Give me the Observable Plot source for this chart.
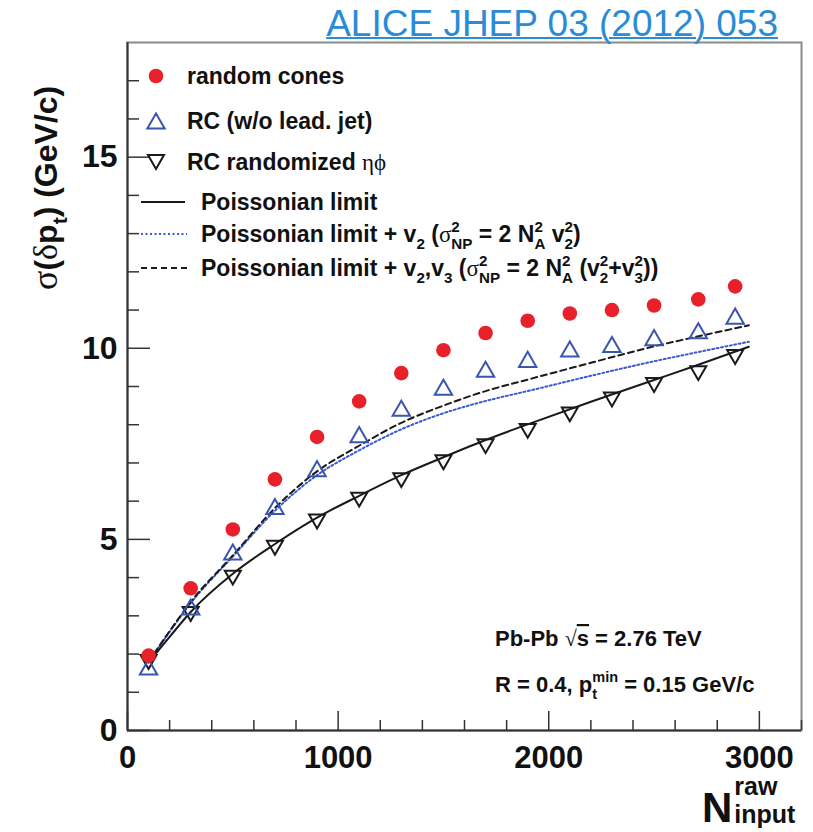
<!DOCTYPE html>
<html>
<head>
<meta charset="utf-8">
<script src="https://cdn.jsdelivr.net/npm/d3@7"></script>
<script src="https://cdn.jsdelivr.net/npm/@observablehq/plot@0.6"></script>
<style>
  html, body { margin: 0; padding: 0; background: #fff; }
  #wrap { position: relative; width: 813px; height: 832px; overflow: hidden; background: #fff; }
  #ref { position: absolute; right: 35px; top: 5px; font: 37px/37px "Liberation Sans", Arial, sans-serif;
         color: #2a8bd6; text-decoration: underline; text-decoration-thickness: 2px; white-space: nowrap; }
  svg text { white-space: pre; }
</style>
</head>
<body>
<div id="wrap"><div id="ref">ALICE JHEP 03 (2012) 053</div></div>
<script>
// ---- data ----
const nInput = [100, 300, 500, 700, 900, 1100, 1300, 1500, 1700, 1900, 2100, 2300, 2500, 2710, 2885];
const randomCones = [1.96, 3.72, 5.26, 6.57, 7.68, 8.61, 9.35, 9.95, 10.40, 10.72, 10.91, 11.00, 11.12, 11.28, 11.62];
const rcNoLeadJet = [1.66, 3.23, 4.67, 5.86, 6.85, 7.74, 8.43, 8.98, 9.45, 9.71, 9.98, 10.10, 10.28, 10.46, 10.84];
const rcRandomized = [1.79, 3.05, 4.00, 4.78, 5.47, 6.04, 6.55, 7.02, 7.44, 7.84, 8.27, 8.66, 9.04, 9.35, 9.77];

const curveN = [100, 200, 300, 500, 700, 900, 1100, 1300, 1500, 1700, 1900, 2200, 2500, 2700, 2950];
const poissonLimit = [1.78, 2.45, 3.10, 4.10, 4.88, 5.57, 6.14, 6.68, 7.15, 7.60, 8.01, 8.60, 9.17, 9.55, 10.04];
const poissonV2 = [1.78, 2.58, 3.33, 4.55, 5.75, 6.68, 7.33, 7.88, 8.30, 8.62, 8.88, 9.28, 9.66, 9.89, 10.17];
const poissonV2V3 = [1.80, 2.60, 3.36, 4.58, 5.82, 6.78, 7.45, 8.05, 8.50, 8.88, 9.18, 9.62, 10.05, 10.30, 10.60];

const xMajor = [0, 1000, 2000, 3000];
const xMinor = [200, 400, 600, 800, 1200, 1400, 1600, 1800, 2200, 2400, 2600, 2800, 3200];
const yMajor = [0, 5, 10, 15];
const yMinor = [1, 2, 3, 4, 6, 7, 8, 9, 11, 12, 13, 14, 16, 17];

// ---- layout / styles ----
const W = 813, H = 832, ML = 127, MR = 12, MT = 42, MB = 102;
const FW = W - ML - MR, FH = H - MT - MB;
const RED = "#e8202a", BLUE = "#3a55ad", DOTBLUE = "#3b5bd0", BLACK = "#1a1a1a";
const SANS = "'Liberation Sans', Arial, Helvetica, sans-serif";
const SERIF = "'Liberation Serif', 'DejaVu Serif', 'Times New Roman', serif";

const triUp = {draw(c, size) { const s = Math.sqrt(size / Math.PI) * 1.18;
  c.moveTo(0, -s); c.lineTo(s * 1.15, s); c.lineTo(-s * 1.15, s); c.closePath(); }};
const triDown = {draw(c, size) { const s = Math.sqrt(size / Math.PI) * 1.18;
  c.moveTo(0, s); c.lineTo(s * 1.15, -s); c.lineTo(-s * 1.15, -s); c.closePath(); }};

const pts = arr => nInput.map((x, i) => ({x, y: arr[i]}));
const crv = arr => curveN.map((x, i) => ({x, y: arr[i]}));

const chart = Plot.plot({
  width: W, height: H,
  marginLeft: ML, marginRight: MR, marginTop: MT, marginBottom: MB,
  style: {fontFamily: SANS, background: "white", overflow: "visible"},
  x: {domain: [0, 3200], label: null},
  y: {domain: [0, 18], label: null},
  marks: [
    Plot.frame({stroke: "#8a8a8a", strokeWidth: 2}),
    Plot.ruleX([0], {stroke: "#333", strokeWidth: 2}),
    Plot.ruleY([0], {stroke: "#333", strokeWidth: 2}),
    Plot.tickX(xMajor, {x: d => d, insetTop: FH - 19, stroke: "#333", strokeWidth: 1.5}),
    Plot.tickX(xMinor, {x: d => d, insetTop: FH - 10, stroke: "#333", strokeWidth: 1.5}),
    Plot.axisX({ticks: xMajor, tickSize: 0, tickPadding: 15, tickFormat: d => String(d), label: null,
                fontSize: 31, fontWeight: "bold", fill: "#111"}),
    Plot.tickY(yMajor, {y: d => d, insetRight: FW - 23, stroke: "#333", strokeWidth: 1.5}),
    Plot.tickY(yMinor, {y: d => d, insetRight: FW - 12, stroke: "#333", strokeWidth: 1.5}),
    Plot.axisY({ticks: yMajor, tickSize: 0, tickPadding: 10, tickFormat: d => String(d), label: null,
                fontSize: 32, fontWeight: "bold", fill: "#111"}),
    Plot.line(crv(poissonV2), {x: "x", y: "y", curve: "monotone-x", stroke: DOTBLUE, strokeWidth: 2, strokeDasharray: "2,2.5"}),
    Plot.line(crv(poissonV2V3), {x: "x", y: "y", curve: "monotone-x", stroke: BLACK, strokeWidth: 2, strokeDasharray: "6,4"}),
    Plot.line(crv(poissonLimit), {x: "x", y: "y", curve: "monotone-x", stroke: BLACK, strokeWidth: 2}),
    Plot.dot(pts(rcRandomized), {x: "x", y: "y", symbol: triDown, r: 5.9, stroke: BLACK, fill: "none", strokeWidth: 2}),
    Plot.dot(pts(rcNoLeadJet), {x: "x", y: "y", symbol: triUp, r: 6.4, stroke: BLUE, fill: "none", strokeWidth: 2}),
    Plot.dot(pts(randomCones), {x: "x", y: "y", r: 7.3, fill: RED, stroke: "none"})
  ]
});
document.getElementById("wrap").appendChild(chart);

// ---- rich text helper (sub/superscripts) ----
function rich(parent, x, y, segs, size) {
  let cx = x;
  const mk = (t, xx, yy, fs, serif, extra) => {
    const e = parent.append("text").attr("x", xx).attr("y", yy)
      .attr("text-anchor", "start")
      .attr("font-family", serif ? SERIF : SANS).attr("font-weight", serif ? "normal" : "bold")
      .attr("font-size", fs).attr("fill", "#111").text(t);
    if (extra) extra(e);
    return e.node().getComputedTextLength();
  };
  for (const s of segs) {
    const k = 0.66;
    if (s.ss) {
      const a = mk(s.ss[0], cx, y - size * 0.45, size * k, false);
      const b = mk(s.ss[1], cx, y + size * 0.3, size * k, false);
      cx += Math.max(a, b);
    } else if (s.sub !== undefined) {
      cx += mk(s.sub, cx, y + size * 0.3, size * k, false);
    } else if (s.sup !== undefined) {
      cx += mk(s.sup, cx, y - size * 0.45, size * k, false);
    } else {
      cx += mk(s.t, cx, y, s.size || size, s.serif, s.extra);
    }
  }
  return cx;
}

const svg = d3.select(chart);
const L = svg.append("g").attr("text-anchor", "start");

// legend
const lsz = 23;
L.append("circle").attr("cx", 156).attr("cy", 76).attr("r", 7.3).attr("fill", RED);
rich(L, 187, 76 + 8, [{t: "random cones"}], lsz);
L.append("path").attr("transform", "translate(156,121)").attr("d", d3.symbol(triUp, Math.PI * 6.4 * 6.4)())
  .attr("fill", "none").attr("stroke", BLUE).attr("stroke-width", 2);
rich(L, 187, 121 + 8, [{t: "RC (w/o lead. jet)"}], lsz);
L.append("path").attr("transform", "translate(156,162)").attr("d", d3.symbol(triDown, Math.PI * 5.9 * 5.9)())
  .attr("fill", "none").attr("stroke", BLACK).attr("stroke-width", 2);
rich(L, 187, 162 + 8, [{t: "RC randomized "}, {t: "ηϕ", serif: true}], lsz);
L.append("line").attr("x1", 141).attr("x2", 185).attr("y1", 202).attr("y2", 202).attr("stroke", BLACK).attr("stroke-width", 2);
rich(L, 201, 202 + 8, [{t: "Poissonian limit"}], lsz);
L.append("line").attr("x1", 141).attr("x2", 187).attr("y1", 234).attr("y2", 234).attr("stroke", DOTBLUE).attr("stroke-width", 2).attr("stroke-dasharray", "2,2.5");
rich(L, 201, 234 + 8, [{t: "Poissonian limit + v"}, {sub: "2"}, {t: " ("}, {t: "σ", serif: true}, {ss: ["2", "NP"]},
  {t: " = 2 N"}, {ss: ["2", "A"]}, {t: " v"}, {ss: ["2", "2"]}, {t: ")"}], lsz);
L.append("line").attr("x1", 141).attr("x2", 187).attr("y1", 268).attr("y2", 268).attr("stroke", BLACK).attr("stroke-width", 2).attr("stroke-dasharray", "6,4");
rich(L, 201, 268 + 8, [{t: "Poissonian limit + v"}, {sub: "2"}, {t: ",v"}, {sub: "3"}, {t: " ("}, {t: "σ", serif: true},
  {ss: ["2", "NP"]}, {t: " = 2 N"}, {ss: ["2", "A"]}, {t: " (v"}, {ss: ["2", "2"]}, {t: "+v"}, {ss: ["2", "3"]}, {t: "))"}], lsz);

// annotation
const asz = 22;
rich(L, 495, 646, [{t: "Pb-Pb "}, {t: "√", serif: true}, {t: "s", extra: e => e.style("text-decoration", "overline")},
  {t: " = 2.76 TeV"}], asz);
rich(L, 495, 692, [{t: "R = 0.4, p"}, {ss: ["min", "t"]}, {t: " = 0.15 GeV/c"}], asz);

// y-axis title (rotated)
const YT = svg.append("g").attr("transform", "translate(57,290) rotate(-90)");
rich(YT, 0, 0, [{t: "σ", serif: true, size: 36}, {t: "("}, {t: "δ", serif: true, size: 34}, {t: "p"}, {sub: "t"}, {t: ") (GeV/c)"}], 32);

// x-axis title
const XT = svg.append("g");
const nW = rich(XT, 702, 822, [{t: "N", size: 42}], 42) - 702;
rich(XT, 702 + nW + 2, 795, [{t: "raw", size: 25}], 25);
rich(XT, 702 + nW + 2, 823, [{t: "input", size: 25}], 25);
</script>
</body>
</html>
